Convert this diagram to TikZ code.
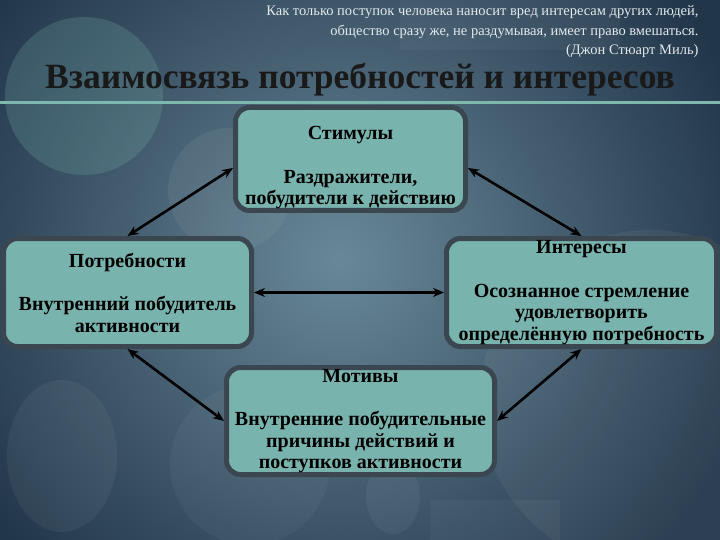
\documentclass[tikz,border=0pt]{standalone}
\usepackage{fontspec}
\setmainfont{Liberation Serif}
\usetikzlibrary{arrows.meta,positioning,shadings}
\definecolor{bgdark}{HTML}{22364A}
\definecolor{bglight}{HTML}{688898}
\definecolor{boxfill}{HTML}{79B3AD}
\definecolor{boxrim}{HTML}{3A4650}
\definecolor{rulecol}{HTML}{7DB7B0}
\definecolor{quotecol}{HTML}{E3E9EC}

\begin{document}
\begin{tikzpicture}[x=1pt,y=-1pt,
	box/.style={draw=boxrim, line width=5pt, fill=boxfill, rounded corners=14pt, align=center, text=black, inner sep=0pt, font=\bfseries\fontsize{20}{21.5}\selectfont},
	link/.style={{Stealth[length=11pt,width=9pt]}-{Stealth[length=11pt,width=9pt]}, line width=2.6pt, black},
	blob/.style={fill=#1, opacity=.18}]
			\useasboundingbox (0,0) rectangle (720,540);
			\fill[bgdark] (0,0) rectangle (720,540);
			\begin{scope}
			\clip (0,0) rectangle (720,540);
			\shade[inner color=bglight, outer color=bgdark] (340,260) circle (430pt);
			\fill[blob=rulecol, opacity=.22] (84,96) circle (79pt);
			\fill[blob=white, opacity=.06] (230,190) circle (62pt);
			\fill[blob=white, opacity=.05] (62,456) ellipse (55pt and 76pt);
			\fill[blob=white, opacity=.04] (250,465) circle (80pt);
			\fill[blob=white, opacity=.05] (393,497) ellipse (27pt and 37pt);
			\fill[blob=white, opacity=.05] (650,400) circle (170pt);
			\fill[blob=white, opacity=.04] (400,0) rectangle (620,50);
			\fill[blob=white, opacity=.04] (430,500) rectangle (560,540);
			\end{scope}
			\draw[rulecol, line width=3pt] (0,103) to (720,103);
			
			\node[anchor=east, align=right, text=quotecol, font=\fontsize{14.5}{19.5}\selectfont] (quote) at (702,32) {Как только поступок человека наносит вред интересам других людей,\\общество сразу же, не раздумывая, имеет право вмешаться.\\(Джон Стюарт Миль)};
			\node[font=\bfseries\fontsize{35.5}{40}\selectfont, text=black!90] (title) at (360,80) {Взаимосвязь потребностей и интересов};
			
			\node[box, minimum width=230pt, minimum height=103pt] (stim) at (350.5,159) {\rule{0pt}{31pt}Стимулы\\[22pt]Раздражители,\\побудители к действию};
			\node[box, minimum width=248pt, minimum height=108pt] (need) at (127.5,292.5) {Потребности\\[22pt]Внутренний побудитель\\активности};
			\node[box, minimum width=270pt, minimum height=108pt] (int) at (581.5,292.5) {Интересы\\[22pt]Осознанное стремление\\удовлетворить\\определённую потребность};
			\node[box, minimum width=268pt, minimum height=107pt] (mot) at (360.5,421) {Мотивы\\[22pt]Внутренние побудительные\\причины действий и\\поступков активности};
			
			\draw[link] ([yshift=-9pt]stim.west) to (need.north);
			\draw[link] ([yshift=-9pt]stim.east) to (int.north);
			\draw[link] (need.east) to (int.west);
			\draw[link] (need.south) to (mot.west);
			\draw[link] (int.south) to (mot.east);
			\end{tikzpicture}
\end{document}
